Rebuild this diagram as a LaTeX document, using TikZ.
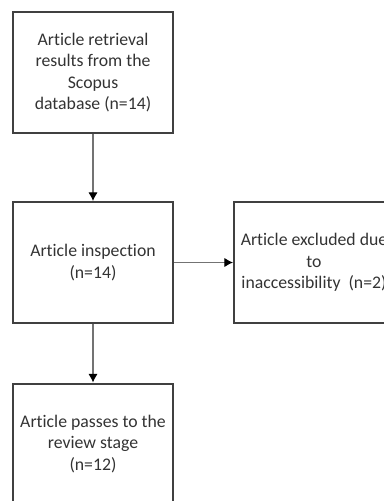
\documentclass[tikz,border=0pt]{standalone}
\usepackage{fontspec}
\setmainfont[Ligatures=NoCommon]{Carlito}
\usetikzlibrary{arrows.meta,positioning}

\begin{document}
\begin{tikzpicture}[x=0.75pt,y=-0.75pt]
        \tikzstyle{every node}=[font=\fontsize{13.3}{16}\selectfont,text=black!80]
        \tikzstyle{stepbox}=[draw=black!75,line width=1.5pt,minimum width=120pt,minimum height=90.75pt,align=center,inner sep=0pt]
        \tikzstyle{flow}=[draw=black!55,line width=0.8pt,-{Latex[length=6.5pt,width=7pt,color=black]}]
        \useasboundingbox (0,0) rectangle (384,501);
        \clip (0,0) rectangle (384,501);

        %%% Boxes
        \node[stepbox] (retrieval) at (93,72.5) {Article retrieval\\results from the\\Scopus\\database (n=14)};
        \node[stepbox] (inspect) at (93,262.5) {Article inspection\\(n=14)};
        \node[stepbox] (excluded) at (314,262.5) {Article excluded due\\to\\inaccessibility~~(n=2)};
        \node[stepbox] (review) at (93,444) {Article passes to the\\review stage\\(n=12)};

        %%% Arrows
        \draw[flow] (retrieval) -- (inspect);
        \draw[flow] (inspect) -- (excluded);
        \draw[flow] (inspect) -- (review);
    \end{tikzpicture}
\end{document}
